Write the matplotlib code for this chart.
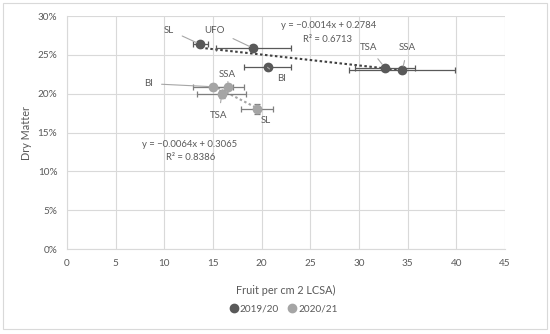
import numpy as np
import matplotlib
matplotlib.use("Agg")
import matplotlib.pyplot as plt
import matplotlib.patches as mpatches

plt.rcParams['font.family'] = ['Lato', 'DejaVu Sans']

# Data
labels_1920 = ["SL", "UFO", "BI", "TSA", "SSA"]
x_1920 = [13.7, 19.15, 20.6, 32.65, 34.45]
y_1920 = [0.2635, 0.2585, 0.234, 0.2337, 0.2303]
xerr_1920 = [0.78, 3.85, 2.4, 3.07, 5.45]
yerr_1920 = [0.002, 0.002, 0.003, 0.003, 0.003]

labels_2021 = ["BI", "SSA", "TSA", "SL"]
x_2021 = [15.0, 16.55, 15.9, 19.5]
y_2021 = [0.209, 0.209, 0.200, 0.180]
xerr_2021 = [2.1, 1.66, 2.5, 1.63]
yerr_2021 = [0.004, 0.003, 0.005, 0.0065]

# trend lines (from the chart equations)
fit_1920 = (-0.0014, 0.2784)
fit_2021 = (-0.0064, 0.3065)

x_ticks = [0, 5, 10, 15, 20, 25, 30, 35, 40, 45]
y_ticks = [0, 0.05, 0.10, 0.15, 0.20, 0.25, 0.30]

dark = '#595959'
light = '#a5a5a5'
txt = '#595959'

fig = plt.figure(figsize=(5.5, 3.34), dpi=100)
ax = fig.add_axes([0.122, 0.254, 0.796, 0.698])

# chart border
fig.add_artist(mpatches.Rectangle((0.006, 0.015), 0.988, 0.975, transform=fig.transFigure,
                                  fill=False, edgecolor='#d9d9d9', linewidth=0.8))

# trend lines
xs = np.array([min(x_1920), max(x_1920)])
ax.plot(xs, fit_1920[0] * xs + fit_1920[1], linestyle=(0, (1.2, 1.2)), color='#404040', linewidth=1.5, zorder=2)
xs = np.array([min(x_2021), max(x_2021)])
ax.plot(xs, fit_2021[0] * xs + fit_2021[1], linestyle=(0, (1.2, 1.2)), color=light, linewidth=1.5, zorder=2)

# error bars and points
ax.errorbar(x_1920, y_1920, xerr=xerr_1920, yerr=yerr_1920, fmt='none', ecolor=dark,
            elinewidth=0.9, capsize=2.5, capthick=0.9, zorder=3)
ax.errorbar(x_2021, y_2021, xerr=xerr_2021, yerr=yerr_2021, fmt='none', ecolor='#7f7f7f',
            elinewidth=0.9, capsize=2.5, capthick=0.9, zorder=3)
ax.plot(x_1920, y_1920, 'o', color=dark, markersize=6, linestyle='none', zorder=4, label='2019/20')
ax.plot(x_2021, y_2021, 'o', color=light, markersize=6, linestyle='none', zorder=4, label='2020/21')

# data labels with leader lines
label_pos_1920 = [(10.5, 0.282), (15.2, 0.282), (22.0, 0.220), (31.0, 0.260), (35.0, 0.259)]
label_pos_2021 = [(8.4, 0.213), (16.5, 0.225), (15.6, 0.172), (20.4, 0.165)]
for lab, x, y, (tx, ty) in zip(labels_1920 + labels_2021, x_1920 + x_2021, y_1920 + y_2021,
                               label_pos_1920 + label_pos_2021):
    ax.annotate(lab, xy=(x, y), xytext=(tx, ty), ha='center', va='center', fontsize=7, color=txt,
                arrowprops=dict(arrowstyle='-', color='#a6a6a6', linewidth=0.8, shrinkA=4, shrinkB=3),
                zorder=5)

# equations
ax.text(26.85, 0.2875, "y = \u22120.0014x + 0.2784", ha='center', va='center', fontsize=6.8, color=txt)
ax.text(26.8, 0.270, "R\u00b2 = 0.6713", ha='center', va='center', fontsize=6.8, color=txt)
ax.text(12.6, 0.1348, "y = \u22120.0064x + 0.3065", ha='center', va='center', fontsize=6.8, color=txt)
ax.text(12.7, 0.1176, "R\u00b2 = 0.8386", ha='center', va='center', fontsize=6.8, color=txt)

ax.set_xlim(0, 45)
ax.set_ylim(0, 0.30)
ax.set_xticks(x_ticks)
ax.set_yticks(y_ticks)
ax.set_yticklabels([f"{int(round(v * 100))}%" for v in y_ticks])
ax.grid(True, color='#d9d9d9', linewidth=0.8)
ax.set_axisbelow(True)
for s in ['top', 'right']:
    ax.spines[s].set_visible(False)
for s in ['left', 'bottom']:
    ax.spines[s].set_color('#d9d9d9')
ax.tick_params(length=0, labelsize=7.2, colors=txt, pad=7)

ax.set_xlabel("Fruit per cm 2 LCSA)", fontsize=7.8, color=txt)
ax.set_ylabel("Dry Matter", fontsize=7.8, color=txt)
ax.xaxis.set_label_coords(0.5, -0.155)
ax.yaxis.set_label_coords(-0.08, 0.5)

fig.legend(loc='center', bbox_to_anchor=(0.515, 0.075), ncol=2, frameon=False, fontsize=7.2,
           handletextpad=0.1, columnspacing=0.8, labelcolor=txt, handlelength=1.0)

fig.savefig("out.png", dpi=100)
